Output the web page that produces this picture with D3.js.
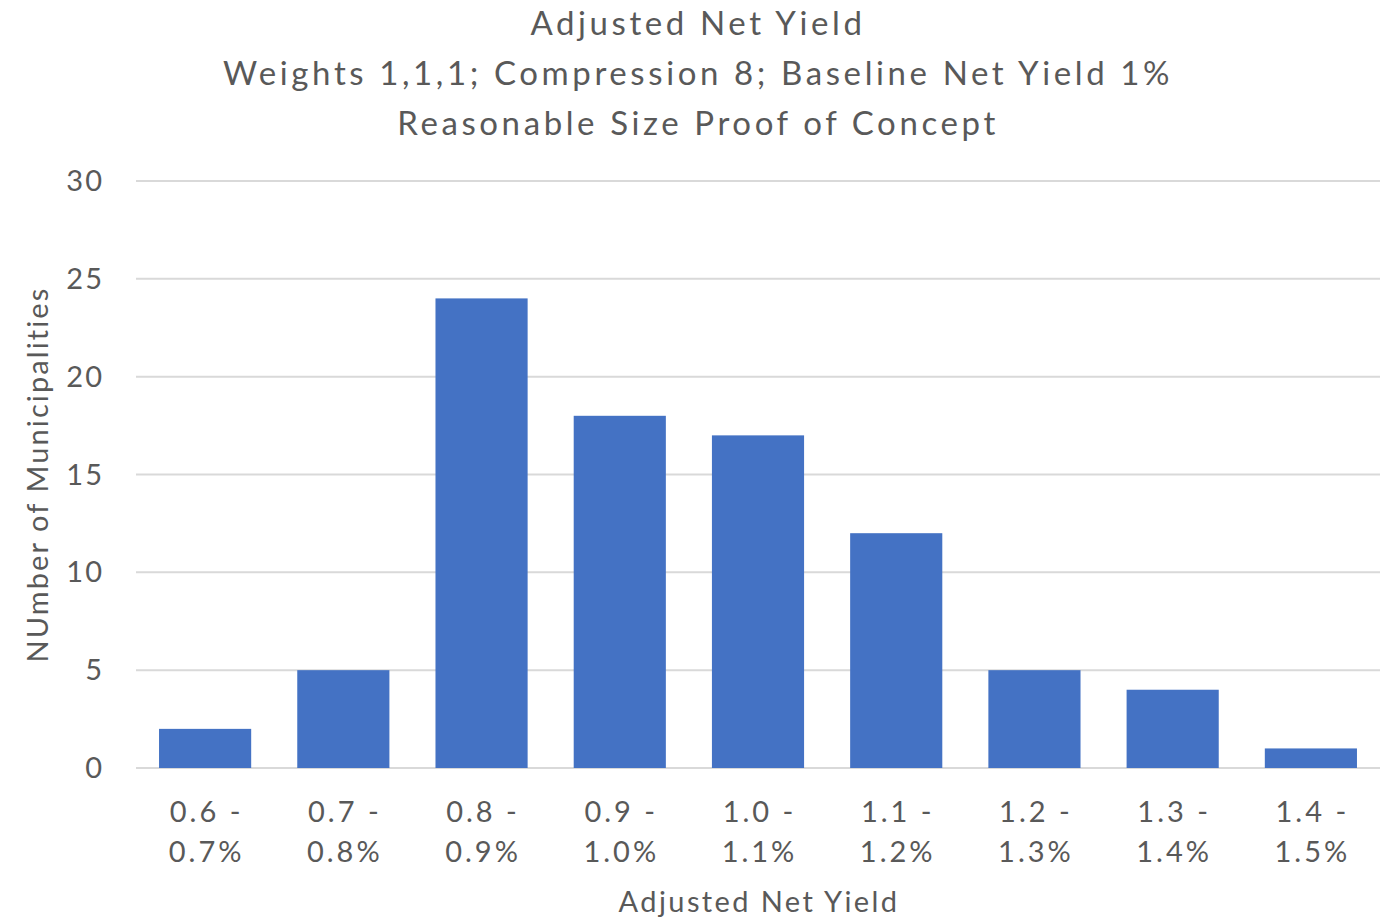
<!DOCTYPE html>
<html>
<head>
<meta charset="utf-8">
<script src="https://cdn.jsdelivr.net/npm/d3@7"></script>
<style>
  html, body { margin: 0; padding: 0; background: #fff; }
  svg { display: block; }
  text { font-family: "Lato", "Noto Sans", sans-serif; fill: #595959; }
</style>
</head>
<body>
<svg id="chart" width="1394" height="919"></svg>
<script>
// Histogram of municipalities by adjusted net yield bucket
const categories = [
  ["0.6 -", "0.7%"], ["0.7 -", "0.8%"], ["0.8 -", "0.9%"],
  ["0.9 -", "1.0%"], ["1.0 -", "1.1%"], ["1.1 -", "1.2%"],
  ["1.2 -", "1.3%"], ["1.3 -", "1.4%"], ["1.4 -", "1.5%"]
];
const counts = [2, 5, 24, 18, 17, 12, 5, 4, 1];
const yTicks = [0, 5, 10, 15, 20, 25, 30];
const titleLines = [
  "Adjusted Net Yield",
  "Weights 1,1,1; Compression 8; Baseline Net Yield 1%",
  "Reasonable Size Proof of Concept"
];
const xTitle = "Adjusted Net Yield";
const yTitle = "NUmber of Municipalities";

const svg = d3.select("#chart");
const plot = { left: 136, right: 1380, top: 181, bottom: 768 };

const x = d3.scaleBand()
  .domain(d3.range(categories.length))
  .range([plot.left, plot.right])
  .paddingInner(1 / 3)
  .paddingOuter(1 / 6);

const y = d3.scaleLinear().domain([0, 30]).range([plot.bottom, plot.top]);

// Gridlines
svg.append("g")
  .selectAll("line")
  .data(yTicks)
  .join("line")
  .attr("x1", plot.left).attr("x2", plot.right)
  .attr("y1", d => y(d)).attr("y2", d => y(d))
  .attr("stroke", "#d9d9d9").attr("stroke-width", 2);

// Bars
svg.append("g")
  .selectAll("rect")
  .data(counts)
  .join("rect")
  .attr("x", (d, i) => x(i))
  .attr("width", x.bandwidth())
  .attr("y", d => y(d))
  .attr("height", d => y(0) - y(d))
  .attr("fill", "#4472c4");

// Y tick labels
svg.append("g")
  .selectAll("text")
  .data(yTicks)
  .join("text")
  .attr("x", 104)
  .attr("y", d => y(d))
  .attr("dy", "0.35em")
  .attr("text-anchor", "end")
  .style("font-size", "29px")
  .style("letter-spacing", "2px")
  .text(d => d);

// X tick labels (two lines each)
const xl = svg.append("g")
  .selectAll("text")
  .data(categories)
  .join("text")
  .attr("text-anchor", "middle")
  .style("font-size", "29px")
  .style("letter-spacing", "3px");
xl.append("tspan")
  .attr("x", (d, i) => x(i) + x.bandwidth() / 2 + 1.5)
  .attr("y", 822)
  .text(d => d[0]);
xl.append("tspan")
  .attr("x", (d, i) => x(i) + x.bandwidth() / 2 + 1.5)
  .attr("y", 862)
  .text(d => d[1]);

// Axis titles
svg.append("text")
  .attr("x", (plot.left + plot.right) / 2 + 1)
  .attr("y", 912)
  .attr("text-anchor", "middle")
  .style("font-size", "29px")
  .style("letter-spacing", "2.4px")
  .text(xTitle);

svg.append("text")
  .attr("transform", `translate(48, ${(plot.top + plot.bottom) / 2}) rotate(-90)`)
  .attr("text-anchor", "middle")
  .style("font-size", "29px")
  .style("letter-spacing", "2.1px")
  .text(yTitle);

// Chart title
svg.append("g")
  .selectAll("text")
  .data(titleLines)
  .join("text")
  .attr("x", 698)
  .attr("y", (d, i) => 35 + i * 50)
  .attr("text-anchor", "middle")
  .style("font-size", "33px")
  .style("letter-spacing", "3.6px")
  .text(d => d);
</script>
</body>
</html>
